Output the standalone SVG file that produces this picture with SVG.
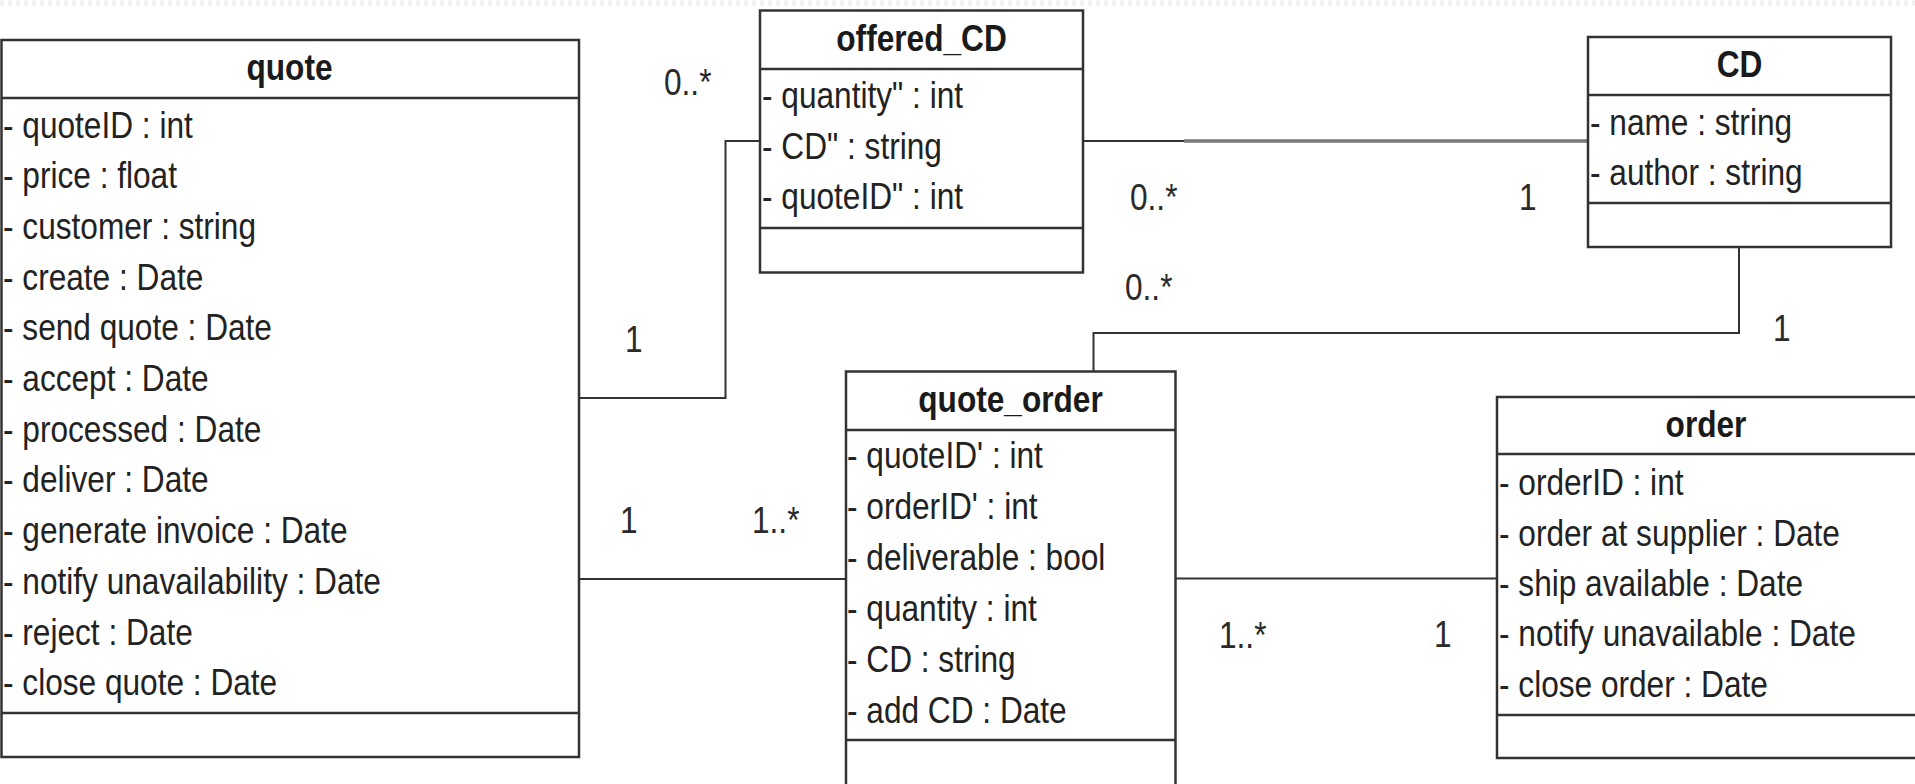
<svg xmlns="http://www.w3.org/2000/svg" width="1915" height="784" viewBox="0 0 1915 784">
<style>
  .box{fill:#ffffff;stroke:#333333;stroke-width:2.5}
  .sep{stroke:#333333;stroke-width:2.5}
  .a{font-family:"Liberation Sans",Arial,sans-serif;font-size:37px;fill:#222222}
  .t{font-family:"Liberation Sans",Arial,sans-serif;font-size:37px;font-weight:bold;fill:#1a1a1a;text-anchor:middle}
  .m{font-family:"Liberation Sans",Arial,sans-serif;font-size:37px;fill:#2a2a2a}
  .c{fill:none;stroke:#333333;stroke-width:2}
</style>
<rect x="0" y="0" width="1915" height="784" fill="#ffffff"/>
<line x1="0" y1="3" x2="1915" y2="3" stroke="#efefef" stroke-width="5" stroke-dasharray="4 4"/>

<g id="connectors">
  <polyline class="c" points="579,398 725.5,398 725.5,141 760,141"/>
  <line class="c" x1="1083" y1="141" x2="1184" y2="141"/>
  <line x1="1184" y1="141" x2="1588" y2="141" stroke="#7a7a7a" stroke-width="3.5"/>
  <polyline class="c" points="1739,247 1739,333 1093.5,333 1093.5,371.5"/>
  <line class="c" x1="579" y1="579" x2="846" y2="579"/>
  <line class="c" x1="1175.5" y1="578.5" x2="1497" y2="578.5"/>
  <g id="labels">
    <text class="m" transform="translate(664 95) scale(0.855 1)">0..*</text>
    <text class="m" transform="translate(625 352) scale(0.855 1)">1</text>
    <text class="m" transform="translate(1130 210) scale(0.855 1)">0..*</text>
    <text class="m" transform="translate(1519 210) scale(0.855 1)">1</text>
    <text class="m" transform="translate(1125 300) scale(0.855 1)">0..*</text>
    <text class="m" transform="translate(1773 341) scale(0.855 1)">1</text>
    <text class="m" transform="translate(620 533) scale(0.855 1)">1</text>
    <text class="m" transform="translate(752 533) scale(0.855 1)">1..*</text>
    <text class="m" transform="translate(1219 648) scale(0.855 1)">1..*</text>
    <text class="m" transform="translate(1434 647) scale(0.855 1)">1</text>
  </g>
</g>

<g id="quote">
  <rect class="box" x="1.5" y="40" width="577.5" height="717"/>
  <line class="sep" x1="1.5" y1="98" x2="579" y2="98"/>
  <line class="sep" x1="1.5" y1="713" x2="579" y2="713"/>
  <text class="t" transform="translate(289.5 80) scale(0.855 1)">quote</text>
  <text class="a" transform="translate(3 137.5) scale(0.855 1)">- quoteID : int</text>
  <text class="a" transform="translate(3 188.2) scale(0.855 1)">- price : float</text>
  <text class="a" transform="translate(3 238.9) scale(0.855 1)">- customer : string</text>
  <text class="a" transform="translate(3 289.6) scale(0.855 1)">- create : Date</text>
  <text class="a" transform="translate(3 340.3) scale(0.855 1)">- send quote : Date</text>
  <text class="a" transform="translate(3 391) scale(0.855 1)">- accept : Date</text>
  <text class="a" transform="translate(3 441.7) scale(0.855 1)">- processed : Date</text>
  <text class="a" transform="translate(3 492.4) scale(0.855 1)">- deliver : Date</text>
  <text class="a" transform="translate(3 543.1) scale(0.855 1)">- generate invoice : Date</text>
  <text class="a" transform="translate(3 593.8) scale(0.855 1)">- notify unavailability : Date</text>
  <text class="a" transform="translate(3 644.5) scale(0.855 1)">- reject : Date</text>
  <text class="a" transform="translate(3 695.2) scale(0.855 1)">- close quote : Date</text>
</g>

<g id="offered_CD">
  <rect class="box" x="760" y="10.5" width="323" height="262"/>
  <line class="sep" x1="760" y1="69" x2="1083" y2="69"/>
  <line class="sep" x1="760" y1="228" x2="1083" y2="228"/>
  <text class="t" transform="translate(921.5 51) scale(0.855 1)">offered_CD</text>
  <text class="a" transform="translate(762 108) scale(0.855 1)">- quantity" : int</text>
  <text class="a" transform="translate(762 158.5) scale(0.855 1)">- CD" : string</text>
  <text class="a" transform="translate(762 209.3) scale(0.855 1)">- quoteID" : int</text>
</g>

<g id="CD">
  <rect class="box" x="1588" y="37" width="303" height="210"/>
  <line class="sep" x1="1588" y1="95" x2="1891" y2="95"/>
  <line class="sep" x1="1588" y1="203" x2="1891" y2="203"/>
  <text class="t" transform="translate(1739.5 77) scale(0.855 1)">CD</text>
  <text class="a" transform="translate(1590 135) scale(0.855 1)">- name : string</text>
  <text class="a" transform="translate(1590 185) scale(0.855 1)">- author : string</text>
</g>

<g id="quote_order">
  <rect class="box" x="846" y="371.5" width="329.5" height="420"/>
  <line class="sep" x1="846" y1="430" x2="1175.5" y2="430"/>
  <line class="sep" x1="846" y1="740" x2="1175.5" y2="740"/>
  <text class="t" transform="translate(1010.5 412) scale(0.855 1)">quote_order</text>
  <text class="a" transform="translate(847 468.3) scale(0.855 1)">- quoteID' : int</text>
  <text class="a" transform="translate(847 519.2) scale(0.855 1)">- orderID' : int</text>
  <text class="a" transform="translate(847 570.1) scale(0.855 1)">- deliverable : bool</text>
  <text class="a" transform="translate(847 621) scale(0.855 1)">- quantity : int</text>
  <text class="a" transform="translate(847 671.9) scale(0.855 1)">- CD : string</text>
  <text class="a" transform="translate(847 722.8) scale(0.855 1)">- add CD : Date</text>
</g>

<g id="order">
  <rect class="box" x="1497" y="397" width="425" height="361"/>
  <line class="sep" x1="1497" y1="454" x2="1915" y2="454"/>
  <line class="sep" x1="1497" y1="715" x2="1915" y2="715"/>
  <text class="t" transform="translate(1706 437) scale(0.855 1)">order</text>
  <text class="a" transform="translate(1499 495) scale(0.855 1)">- orderID : int</text>
  <text class="a" transform="translate(1499 545.5) scale(0.855 1)">- order at supplier : Date</text>
  <text class="a" transform="translate(1499 596) scale(0.855 1)">- ship available : Date</text>
  <text class="a" transform="translate(1499 646.2) scale(0.855 1)">- notify unavailable : Date</text>
  <text class="a" transform="translate(1499 696.7) scale(0.855 1)">- close order : Date</text>
</g>
</svg>
